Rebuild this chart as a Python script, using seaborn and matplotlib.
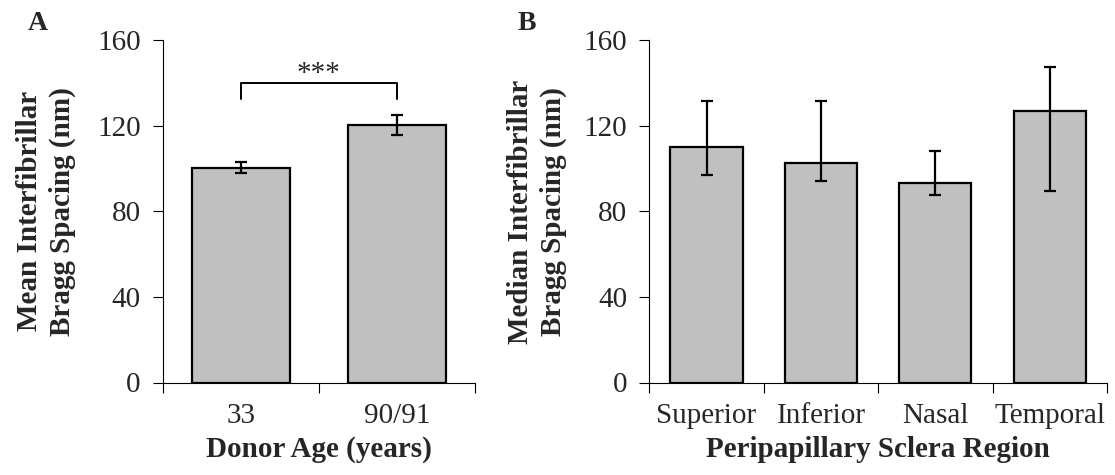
import matplotlib
matplotlib.use("Agg")
import matplotlib.pyplot as plt
import seaborn as sns
import numpy as np
import pandas as pd

# Panel A data
age_groups = ["33", "90/91"]
age_means = [100.5, 120.3]
age_err_low = [2.5, 4.6]
age_err_high = [2.8, 4.6]

# Panel B data
regions = ["Superior", "Inferior", "Nasal", "Temporal"]
region_medians = [110.0, 102.8, 93.2, 127.0]
region_q_low = [97.1, 94.2, 87.7, 89.7]
region_q_high = [131.5, 131.5, 108.1, 147.4]

y_ticks = [0, 40, 80, 120, 160]

sns.set_theme(style="white")
plt.rcParams["font.family"] = ["Liberation Serif", "DejaVu Serif"]
plt.rcParams["axes.linewidth"] = 0.8

fig = plt.figure(figsize=(11.15, 4.75), dpi=100)
axA = fig.add_axes([163 / 1115, 1 - 382.5 / 475, (475 - 163) / 1115, (382.5 - 40.3) / 475])
axB = fig.add_axes([649.3 / 1115, 1 - 382.5 / 475, (1107 - 649.3) / 1115, (382.5 - 40.3) / 475])

FS = 21
bar_color = "#c0c0c0"


def draw(ax, cats, vals, lo, hi, xlabel, ylabel, ypad):
    df = pd.DataFrame({"cat": cats, "val": vals})
    sns.barplot(data=df, x="cat", y="val", order=cats, color=bar_color, width=0.63,
                edgecolor="black", linewidth=1.6, saturation=1, ax=ax, errorbar=None)
    x = np.arange(len(cats))
    yerr = np.array([lo, hi])
    ax.errorbar(x, vals, yerr=yerr, fmt="none", ecolor="black", elinewidth=1.6,
                capsize=4.5, capthick=1.6, zorder=5)
    n = len(cats)
    ax.set_xlim(-0.5, n - 0.5)
    ax.set_ylim(0, 160)
    ax.set_yticks(y_ticks)
    ax.set_yticklabels([str(t) for t in y_ticks], fontsize=FS)
    # boundary ticks (major, no labels); labels on minor ticks at centres
    ax.set_xticks(np.arange(-0.5, n, 1.0))
    ax.set_xticklabels([])
    ax.set_xticks(x, minor=True)
    ax.set_xticklabels(cats, minor=True, fontsize=FS)
    ax.tick_params(axis="x", which="major", direction="out", length=7, width=0.8, color="black", bottom=True)
    ax.tick_params(axis="x", which="minor", length=0, pad=15, bottom=True)
    ax.tick_params(axis="y", which="major", direction="out", length=7, width=0.8, color="black", pad=9, left=True)
    for s in ["top", "right"]:
        ax.spines[s].set_visible(False)
    for s in ["left", "bottom"]:
        ax.spines[s].set_color("black")
    ax.set_xlabel(xlabel, fontsize=FS, fontweight="bold", labelpad=5)
    ax.set_ylabel(ylabel, fontsize=FS, fontweight="bold", labelpad=ypad, linespacing=1.25)


draw(axA, age_groups, age_means, age_err_low, age_err_high,
     "Donor Age (years)", "Mean Interfibrillar\nBragg Spacing (nm)", 15.5)
draw(axB, regions, region_medians,
     list(np.array(region_medians) - np.array(region_q_low)),
     list(np.array(region_q_high) - np.array(region_medians)),
     "Peripapillary Sclera Region", "Median Interfibrillar\nBragg Spacing (nm)", 12)

# significance bracket
axA.plot([0, 0, 1, 1], [132.4, 140, 140, 132.4], color="black", lw=1.4, clip_on=False)
axA.text(0.5, 141.0, "***", ha="center", va="baseline", fontsize=FS)

fig.text(38 / 1115, 1 - 23 / 475, "A", fontsize=20, fontweight="bold", ha="center", va="center")
fig.text(527 / 1115, 1 - 23 / 475, "B", fontsize=20, fontweight="bold", ha="center", va="center")

fig.savefig("out.png", dpi=100)
